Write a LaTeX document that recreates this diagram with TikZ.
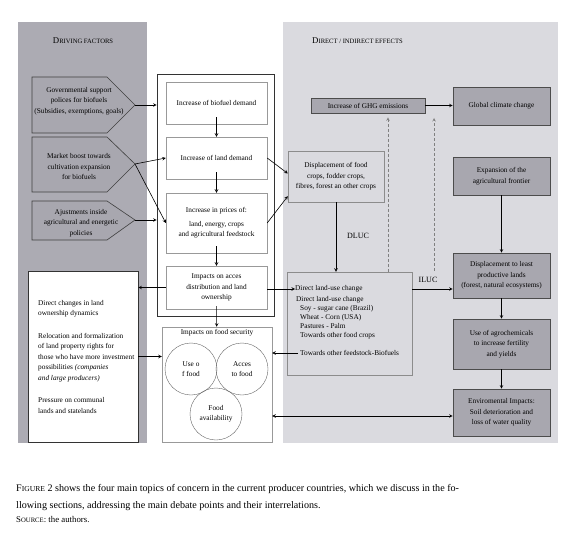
\documentclass[tikz,border=0pt]{standalone}
\usepackage{fontspec}
\setmainfont{Liberation Serif}
\usepackage{tikz}
\usetikzlibrary{arrows}
\definecolor{leftgray}{RGB}{172,171,179}
\definecolor{rightgray}{RGB}{218,218,223}
\definecolor{boxgray}{RGB}{168,167,175}
\tikzstyle{arrow} = [semithick,->,>=stealth]
\tikzstyle{darrow} = [semithick,<->,>=stealth]
\tikzstyle{downarrow} = [arrow, shorten <=-7pt]
\tikzstyle{dasharrow} = [arrow, draw=black!50, dash pattern=on 3pt off 2pt]
\tikzstyle{txt} = [align=center, inner sep=0pt]
\tikzstyle{pent} = [draw=black!75, fill=boxgray, semithick]
\tikzstyle{wbox} = [rectangle, draw=black!40, fill=white, align=center]
\tikzstyle{gbox} = [rectangle, draw=black!45, fill=rightgray, align=center]
\tikzstyle{dbox} = [rectangle, draw=black!70, fill=boxgray, semithick, align=center]
\tikzstyle{circ} = [circle, draw=black!60, minimum size=52pt, align=center, inner sep=0pt]
\newcommand{\fsc}[2]{{\fontsize{8.8}{8.8}\selectfont #1}{\fontsize{6.6}{6.6}\selectfont #2}}

\begin{document}
\begin{tikzpicture}[x=1pt, y=-1pt, font=\fontsize{7.3}{10.5}\selectfont]
		\useasboundingbox (0,0) rectangle (580,534);
		\fill[white] (0,0) rectangle (580,534);
		% panels
		\fill[leftgray] (18,22) rectangle (147,443);
		\fill[rightgray] (283,22) rectangle (558,443);
		\node (drv) [txt] at (83,41) {\fsc{D}{RIVING FACTORS}};
		\node (eff) [txt, anchor=west] at (312,41) {\fsc{D}{IRECT / INDIRECT EFFECTS}};
		% driving factors
		\draw[pent] (32,77) -- (107,77) -- (135,105) -- (107,133) -- (32,133) -- cycle;
		\draw[pent] (32,137) -- (107,137) -- (135,164) -- (107,192) -- (32,192) -- cycle;
		\draw[pent] (32,201) -- (107,201) -- (135,220) -- (107,240) -- (32,240) -- cycle;
		\coordinate (p1) at (135,105);
		\coordinate (p2) at (135,164);
		\coordinate (p3) at (135,220);
		\node (gov) [txt] at (79,101) {Governmental support\\polices for biofuels\\(Subsidies, exemptions, goals)};
		\node (mkt) [txt] at (79,167) {Market boost towards\\cultivation expansion\\for biofuels};
		\node (adj) [txt] at (81,223) {Ajustments inside\\agricultural and energetic\\policies};
		% central chain
		\node (frame) [draw=black!80, semithick, minimum width=117pt, minimum height=242pt] at (215.5,195) {};
		\node (b1) [wbox, minimum width=101pt, minimum height=42pt] at (216.5,103) {Increase of biofuel demand};
		\node (b2) [wbox, minimum width=101pt, minimum height=42pt] at (216.5,158) {Increase of land demand};
		\node (b3) [wbox, minimum width=101pt, minimum height=60pt] at (216.5,223) {Increase in prices of:\\[3pt]land, energy, crops\\and agricultural feedstock};
		\node (b4) [wbox, minimum width=101pt, minimum height=43pt] at (216.5,287.5) {Impacts on acces\\distribution and land\\ownership};
		\draw [arrow] (p1) -- (p1 -| frame.west);
		\draw [arrow] (p2) -- (b2.west);
		\draw [arrow] (p2) -- (b3.west);
		\draw [arrow] (p3) -- (p3 -| frame.west);
		\draw [downarrow] (b1) -- (b2);
		\draw [downarrow] (b2) -- (b3);
		\draw [downarrow] (b3) -- (b4);
		% food security
		\node (food) [wbox, minimum width=110pt, minimum height=115pt] at (217,384.5) {};
		\node (foodt) [txt] at (217,333) {Impacts on food security};
		\node (use) [circ] at (191,369) {Use o\\f food};
		\node (acc) [circ] at (242,369) {Acces\\to food};
		\node (avail) [circ] at (216,414) {Food\\availability};
		\draw [arrow, shorten <=-3pt] (b4) -- (food);
		% land ownership
		\node (lbox) [draw=black!80, fill=white, semithick, minimum width=110pt, minimum height=171pt] at (83,356.5) {};
		\node (ltext) [anchor=west, align=left, inner sep=0pt] at (38,357) {Direct changes in land\\ownership dynamics\\[12pt]Relocation and formalization\\of land property rights for\\those who have more investment\\possibilities \textit{(companies}\\\textit{and large producers)}\\[12pt]Pressure on communal\\lands and statelands};
		\draw [arrow] (b4.west) -- (b4.west -| lbox.east);
		\draw [arrow] (lbox.east) -- (lbox.east -| food.west);
		% direct / indirect effects
		\node (disp) [gbox, minimum width=96pt, minimum height=51pt] at (336,176.5) {Displacement of food\\crops, fodder crops,\\fibres, forest an other crops};
		\node (landuse) [gbox, minimum width=125pt, minimum height=103pt] at (349.5,323.5) {};
		\node (dlu1) [txt, anchor=west] at (295,289) {Direct land-use change};
		\node (dlu2) [anchor=north west, align=left, inner sep=0pt, font=\fontsize{7.3}{9}\selectfont] at (296,296) {Direct land-use change\\\hspace*{4pt}Soy - sugar cane (Brazil)\\\hspace*{4pt}Wheat - Corn (USA)\\\hspace*{4pt}Pastures - Palm\\\hspace*{4pt}Towards other food crops};
		\node (dlu3) [txt, anchor=west] at (300,353) {Towards other feedstock-Biofuels};
		\draw [arrow] (b2.east) -- ([yshift=3pt]disp.west);
		\draw [arrow] (b3.east) -- ([yshift=6pt]disp.south west);
		\draw [arrow] (disp.south) -- (disp.south |- landuse.north);
		\node (dluc) [txt, font=\fontsize{8}{8}\selectfont] at (358,236) {DLUC};
		\draw [arrow] (b4.east |- dlu1) -- (dlu1.west);
		\draw [arrow] ([xshift=-2pt]dlu3.west) -- (dlu3.west -| food.east);
		\node (ghg) [dbox, minimum width=114pt, minimum height=15pt, inner sep=0pt] at (368,105.5) {Increase of GHG emissions};
		\node (glob) [dbox, minimum width=97pt, minimum height=38pt] at (501.5,106) {Global climate change};
		\node (expan) [dbox, minimum width=97pt, minimum height=38pt] at (501.5,176) {Expansion of the\\agricultural frontier};
		\node (least) [dbox, minimum width=97pt, minimum height=45pt] at (501.5,275.5) {Displacement to least\\productive lands\\(forest, natural ecosystems)};
		\node (agro) [dbox, minimum width=97pt, minimum height=50pt] at (501.5,344) {Use of agrochemicals\\to increase fertility\\and yields};
		\node (env) [dbox, minimum width=97pt, minimum height=47pt] at (501.5,412.5) {Enviromental Impacts:\\Soil deterioration and\\loss of water quality};
		\draw [arrow] (ghg.east) -- (ghg.east -| glob.west);
		\draw [arrow] (expan) -- (least);
		\draw [arrow] (least) -- (agro);
		\draw [arrow] (agro) -- (env);
		\draw [arrow] (landuse.east |- dlu1) -- (least.west |- dlu1);
		\node (iluc) [txt, font=\fontsize{8}{8}\selectfont] at (428,280) {ILUC};
		\draw [darrow] (env.west |- 0,416) -- (food.east |- 0,416);
		% emissions
		\coordinate (d1) at (388,272);
		\coordinate (d2) at (434,271);
		\coordinate (d2e) at (434,118);
		\draw [dasharrow, shorten >=4pt] (d1) -- (d1 |- ghg.south);
		\draw [dasharrow] (d2) -- (d2e);
		% caption
		\node (cap1) [anchor=base west, inner sep=0pt, font=\fontsize{10.1}{12}\selectfont] at (16,491) {F{\fontsize{7.6}{7.6}\selectfont IGURE} 2 shows the four main topics of concern in the current producer countries, which we discuss in the fo-};
		\node (cap2) [anchor=base west, inner sep=0pt, font=\fontsize{10.1}{12}\selectfont] at (16,508) {llowing sections, addressing the main debate points and their interrelations.};
		\node (src) [anchor=base west, inner sep=0pt, font=\fontsize{8.8}{10}\selectfont] at (16,522) {S{\fontsize{6.7}{6.7}\selectfont OURCE}: the authors.};
\end{tikzpicture}
\end{document}
